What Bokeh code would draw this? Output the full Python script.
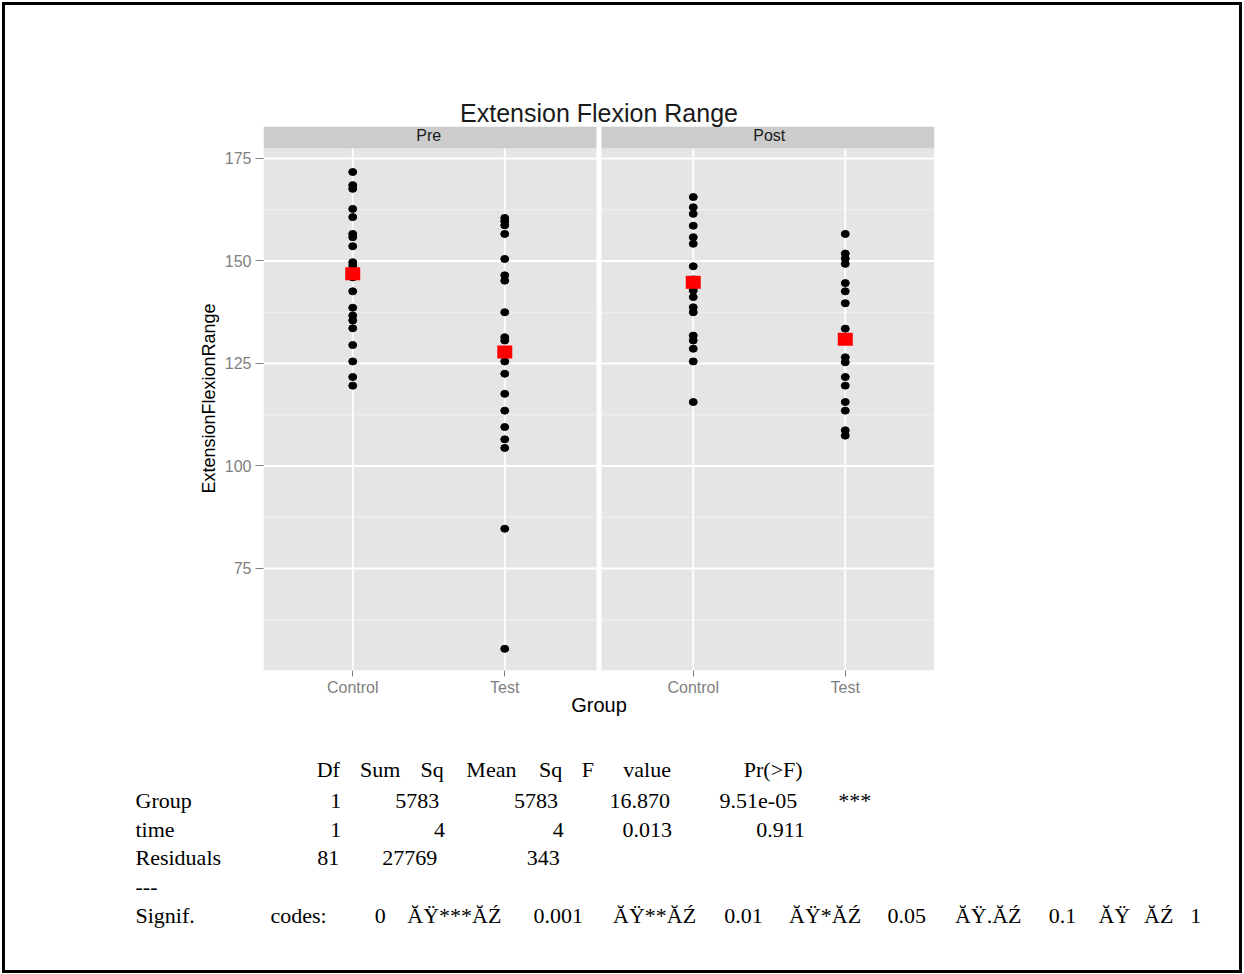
import re
from bokeh.plotting import figure
from bokeh.layouts import column
from bokeh.models import FactorRange, Range1d, FixedTicker, ColumnDataSource, Div
from bokeh.core.properties import value
from bokeh.embed import file_html
from bokeh.resources import INLINE

# ---------------- data ----------------
times = ["Pre", "Post"]
groups = ["Control", "Test"]

pre_control = [171.7, 168.5, 167.6, 162.7, 160.7, 156.6, 155.8, 153.6, 149.7, 148.9,
               147.0, 146.0, 142.6, 138.6, 136.7, 135.5, 133.6, 129.5, 125.5, 121.7, 119.6]
pre_test = [160.5, 159.7, 158.7, 156.6, 150.5, 146.5, 145.2, 137.5, 131.4, 130.6,
            128.0, 125.5, 122.5, 117.6, 113.5, 109.5, 106.5, 104.4, 84.7, 55.4]
post_control = [165.6, 163.1, 161.5, 158.6, 155.8, 154.2, 148.7, 145.5, 142.8, 141.2,
                138.7, 137.5, 131.8, 130.6, 128.6, 125.5, 115.6]
post_test = [156.6, 151.8, 150.6, 149.3, 144.6, 142.6, 139.7, 133.5, 131.5, 126.5,
             125.3, 121.7, 119.6, 115.6, 113.5, 108.7, 107.4]

mean_pre = [146.9, 127.8]     # Control, Test
mean_post = [144.8, 130.9]    # Control, Test

y_ticks = [75, 100, 125, 150, 175]
y_minor = [62.5, 87.5, 112.5, 137.5, 162.5]

title_text = "Extension Flexion Range"
x_title = "Group"
y_title = "ExtensionFlexionRange"

anova_lines = [
    "            Df Sum Sq Mean Sq F value   Pr(>F)",
    "Group        1   5783    5783  16.870 9.51e-05 ***",
    "time         1      4       4   0.013    0.911",
    "Residuals   81  27769     343",
    "---",
    "Signif. codes:  0 \u0102\u0178***\u0102\u0179 0.001 \u0102\u0178**\u0102\u0179 0.01 \u0102\u0178*\u0102\u0179 0.05 \u0102\u0178.\u0102\u0179 0.1 \u0102\u0178 \u0102\u0179 1",
]

# ---------------- layout constants ----------------
W, H = 1244, 974
TOP_H = 740
FRAME_L, FRAME_R, FRAME_T, FRAME_B = 263, 934, 126, 670
GROUP_PAD = 0.24
SIDE_PAD = 0.087
X_START = -SIDE_PAD
X_END = 4 + GROUP_PAD + SIDE_PAD
Y_TOP, Y_BOTTOM = 182.80, 50.12
PANEL_TOP = 177.44
PX_X = (FRAME_R - FRAME_L) / (X_END - X_START)


def sx(px):
    return X_START + (px - FRAME_L) / PX_X


PANELS = {"Pre": (sx(263), sx(596)), "Post": (sx(601), sx(934))}

factors = [(t, g) for t in times for g in groups]
xr = FactorRange(factors=factors, factor_padding=0.0, group_padding=GROUP_PAD,
                 range_padding=SIDE_PAD, range_padding_units="absolute")
yr = Range1d(Y_BOTTOM, Y_TOP)

p = figure(width=W, height=TOP_H, x_range=xr, y_range=yr, output_backend="svg",
           toolbar_location=None, min_border_left=FRAME_L, min_border_right=W - FRAME_R,
           min_border_top=FRAME_T, min_border_bottom=TOP_H - FRAME_B,
           background_fill_color="white", border_fill_color="white",
           outline_line_color=None)
p.frame_align = False
p.xgrid.visible = False
p.ygrid.visible = False

# title
p.title.text = title_text
p.title.align = "center"
p.title.text_font = "Liberation Sans"
p.title.text_font_size = "25px"
p.title.text_font_style = "normal"
p.title.text_color = "#1a1a1a"
p.title.standoff = 0

# panels + strips
for t in times:
    l, r = PANELS[t]
    p.quad(left=[l], right=[r], bottom=[Y_BOTTOM], top=[PANEL_TOP],
           fill_color="#E5E5E5", line_color=None)
    p.quad(left=[l], right=[r], bottom=[PANEL_TOP], top=[Y_TOP],
           fill_color="#CCCCCC", line_color=None)
    p.segment(x0=[l] * len(y_minor), x1=[r] * len(y_minor), y0=y_minor, y1=y_minor,
              line_color="#F2F2F2", line_width=1)
    p.segment(x0=[l] * len(y_ticks), x1=[r] * len(y_ticks), y0=y_ticks, y1=y_ticks,
              line_color="white", line_width=1.8)
    cats = [(t, g) for g in groups]
    p.segment(x0=cats, x1=cats, y0=[Y_BOTTOM] * 2, y1=[PANEL_TOP] * 2,
              line_color="white", line_width=1.8)

p.text(x=times, y=[(PANEL_TOP + Y_TOP) / 2 + 0.5] * 2, text=times,
       text_align="center", text_baseline="middle", text_font_size="16px",
       text_color="#1a1a1a", text_font=value("Liberation Sans"))

# points
series = {("Pre", "Control"): pre_control, ("Pre", "Test"): pre_test,
          ("Post", "Control"): post_control, ("Post", "Test"): post_test}
xs, ys = [], []
for k, vals in series.items():
    xs += [k] * len(vals)
    ys += vals
p.ellipse(x=xs, y=ys, width=8, height=7, width_units="screen", height_units="screen",
          fill_color="black", line_color="black")

mx = [("Pre", g) for g in groups] + [("Post", g) for g in groups]
my = mean_pre + mean_post
p.rect(x=mx, y=my, width=15, height=13, width_units="screen", height_units="screen",
       fill_color="#FF0000", line_color=None)

# axes
ya = p.yaxis[0]
ya.ticker = FixedTicker(ticks=y_ticks)
ya.bounds = (Y_BOTTOM, PANEL_TOP)
ya.axis_line_color = None
ya.major_tick_line_color = "#7F7F7F"
ya.major_tick_out = 8
ya.major_tick_in = 0
ya.minor_tick_line_color = None
ya.major_label_text_color = "#7F7F7F"
ya.major_label_text_font = "Liberation Sans"
ya.major_label_text_font_size = "16px"
ya.major_label_standoff = 4
ya.axis_label = y_title
ya.axis_label_text_font = "Liberation Sans"
ya.axis_label_text_font_size = "18px"
ya.axis_label_text_font_style = "normal"
ya.axis_label_text_color = "black"
ya.axis_label_standoff = 3

xa = p.xaxis[0]
xa.axis_line_color = None
xa.major_tick_line_color = "#7F7F7F"
xa.major_tick_out = 6
xa.major_tick_in = 0
xa.major_label_text_color = "#7F7F7F"
xa.major_label_text_font = "Liberation Sans"
xa.major_label_text_font_size = "16px"
xa.major_label_orientation = "horizontal"
xa.major_label_standoff = 2
xa.group_text_alpha = 0
xa.group_text_font_size = "2px"
xa.separator_line_alpha = 0
xa.axis_label = x_title
xa.axis_label_text_font = "Liberation Sans"
xa.axis_label_text_font_size = "20px"
xa.axis_label_text_font_style = "normal"
xa.axis_label_text_color = "black"
xa.axis_label_standoff = -5

# ---------------- ANOVA table (second figure, page-pixel coordinates) ----------------
tbl = figure(width=W, height=H - TOP_H, x_range=Range1d(0, W), y_range=Range1d(H, TOP_H),
             output_backend="svg", toolbar_location=None, min_border=0,
             x_axis_location=None, y_axis_location=None, outline_line_color=None,
             background_fill_color="white", border_fill_color="white")
tbl.frame_align = False
tbl.grid.visible = False

CELL = 14.83
X0 = 135
ROW_Y = [769, 800, 829, 857, 886, 915]
tx, ty, tt, ta = [], [], [], []
for i, line in enumerate(anova_lines):
    for m in re.finditer(r"\S+", line):
        tok = m.group()
        if m.start() == 0:
            tx.append(X0)
            ta.append("left")
        else:
            tx.append(X0 + (m.start() + len(tok) / 2) * CELL)
            ta.append("center")
        ty.append(ROW_Y[i])
        tt.append(tok)
src = ColumnDataSource(dict(x=tx, y=ty, text=tt, align=ta))
tbl.text(x="x", y="y", text="text", source=src, text_align="align",
         text_baseline="middle", text_font=value("Liberation Serif"),
         text_font_size="22px", text_color="black")

border = Div(text="", width=0, height=0, margin=0,
             styles={"position": "fixed", "left": "2px", "top": "2px",
                     "width": "1240px", "height": "971px",
                     "border": "3px solid black", "box-sizing": "border-box",
                     "pointer-events": "none", "z-index": "100"})

layout = column(p, tbl, border, spacing=0)

open("out.html", "w").write(file_html(layout, INLINE))
